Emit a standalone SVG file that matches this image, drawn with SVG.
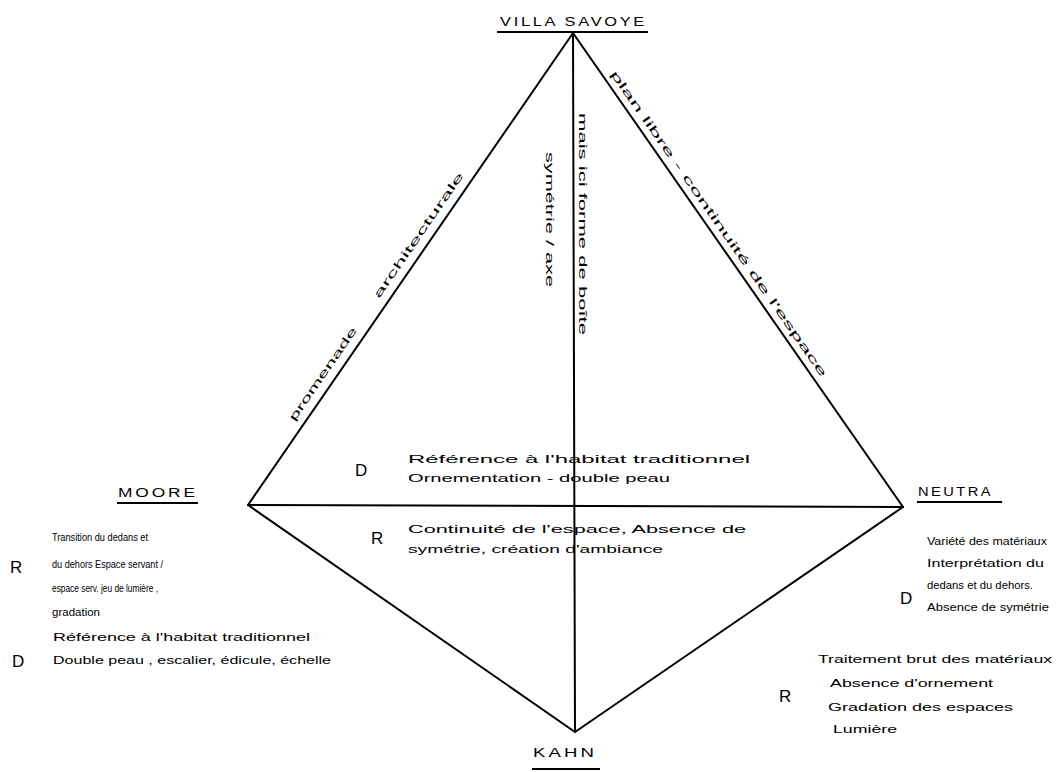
<svg xmlns="http://www.w3.org/2000/svg" width="1063" height="772" viewBox="0 0 1063 772">
<style>
  .ln { stroke:#000; stroke-width:2; fill:none; stroke-linecap:round; }
  .ul { stroke:#000; stroke-width:2.2; fill:none; }
  .ttl { font-family:"Liberation Sans", Arial, sans-serif; font-size:12px; fill:#000; letter-spacing:2px; }
  .hw { font-family:"Liberation Sans", Arial, sans-serif; font-size:11.5px; fill:#000; }
  .edge { font-family:"Liberation Sans", Arial, sans-serif; font-size:11px; fill:#000; }
  .big { font-family:"Liberation Sans", Arial, sans-serif; font-size:17px; fill:#000; }
</style>
<rect width="1063" height="772" fill="#fff"/>

<g id="connectors">
  <line class="ln" x1="573" y1="33" x2="248" y2="505"/>
  <line class="ln" x1="573" y1="33" x2="903" y2="507"/>
  <line class="ln" x1="573" y1="33" x2="575" y2="732"/>
  <line class="ln" x1="248" y1="505" x2="903" y2="507"/>
  <line class="ln" x1="248" y1="505" x2="575" y2="732"/>
  <line class="ln" x1="903" y1="507" x2="575" y2="732"/>
  <text class="edge" transform="translate(294.5,421.7) rotate(-55.45)" textLength="111" lengthAdjust="spacingAndGlyphs">promenade</text>
  <text class="edge" transform="translate(379,299) rotate(-55.45)" textLength="150" lengthAdjust="spacingAndGlyphs">architecturale</text>
  <text class="edge" transform="translate(610,74) rotate(55.15)" textLength="370" lengthAdjust="spacingAndGlyphs">plan libre - continuité de l'espace</text>
  <text class="edge" transform="translate(546,152) rotate(90)" textLength="135" lengthAdjust="spacingAndGlyphs">symétrie / axe</text>
  <text class="edge" transform="translate(579,113) rotate(90)" textLength="222" lengthAdjust="spacingAndGlyphs">mais ici forme de boîte</text>
</g>

<g id="center-notes">
  <text class="big" x="355" y="476">D</text>
  <text class="hw" x="408" y="463" textLength="342" lengthAdjust="spacingAndGlyphs">Référence à l'habitat traditionnel</text>
  <text class="hw" x="408" y="482" textLength="262" lengthAdjust="spacingAndGlyphs">Ornementation - double peau</text>
  <text class="big" x="371" y="544">R</text>
  <text class="hw" x="408" y="533" textLength="338" lengthAdjust="spacingAndGlyphs">Continuité de l'espace, Absence de</text>
  <text class="hw" x="408" y="553" textLength="255" lengthAdjust="spacingAndGlyphs">symétrie, création d'ambiance</text>
</g>

<g id="villa-savoye">
  <text class="ttl" x="500" y="26" textLength="147" lengthAdjust="spacingAndGlyphs">VILLA SAVOYE</text>
  <line class="ul" x1="497" y1="32" x2="648" y2="32"/>
</g>

<g id="moore">
  <text class="ttl" x="118" y="497" textLength="80" lengthAdjust="spacingAndGlyphs">MOORE</text>
  <line class="ul" x1="117" y1="503" x2="198" y2="503"/>
  <text class="big" x="10" y="573">R</text>
  <text class="hw" x="52" y="541" textLength="96" lengthAdjust="spacingAndGlyphs">Transition du dedans et</text>
  <text class="hw" x="52" y="568" textLength="111" lengthAdjust="spacingAndGlyphs">du dehors Espace servant /</text>
  <text class="hw" x="52" y="592" textLength="106" lengthAdjust="spacingAndGlyphs">espace serv. jeu de lumière ,</text>
  <text class="hw" x="52" y="616" textLength="48" lengthAdjust="spacingAndGlyphs">gradation</text>
  <text class="big" x="12" y="667">D</text>
  <text class="hw" x="53" y="641" textLength="257" lengthAdjust="spacingAndGlyphs">Référence à l'habitat traditionnel</text>
  <text class="hw" x="53" y="664" textLength="278" lengthAdjust="spacingAndGlyphs">Double peau , escalier, édicule, échelle</text>
</g>

<g id="neutra">
  <text class="ttl" x="918" y="496" textLength="75" lengthAdjust="spacingAndGlyphs">NEUTRA</text>
  <line class="ul" x1="917" y1="502" x2="1002" y2="502"/>
  <text class="hw" x="927" y="545" textLength="120" lengthAdjust="spacingAndGlyphs">Variété des matériaux</text>
  <text class="hw" x="927" y="567" textLength="117" lengthAdjust="spacingAndGlyphs">Interprétation du</text>
  <text class="hw" x="927" y="589" textLength="106" lengthAdjust="spacingAndGlyphs">dedans et du dehors.</text>
  <text class="hw" x="927" y="611" textLength="122" lengthAdjust="spacingAndGlyphs">Absence de symétrie</text>
  <text class="big" x="900" y="604">D</text>
  <text class="big" x="779" y="702">R</text>
  <text class="hw" x="818" y="663" textLength="234" lengthAdjust="spacingAndGlyphs">Traitement brut des matériaux</text>
  <text class="hw" x="830" y="687" textLength="163" lengthAdjust="spacingAndGlyphs">Absence d'ornement</text>
  <text class="hw" x="828" y="711" textLength="185" lengthAdjust="spacingAndGlyphs">Gradation des espaces</text>
  <text class="hw" x="833" y="733" textLength="64" lengthAdjust="spacingAndGlyphs">Lumière</text>
</g>

<g id="kahn">
  <text class="ttl" x="533" y="757" textLength="64" lengthAdjust="spacingAndGlyphs">KAHN</text>
  <line class="ul" x1="532" y1="769" x2="600" y2="769"/>
</g>
</svg>
